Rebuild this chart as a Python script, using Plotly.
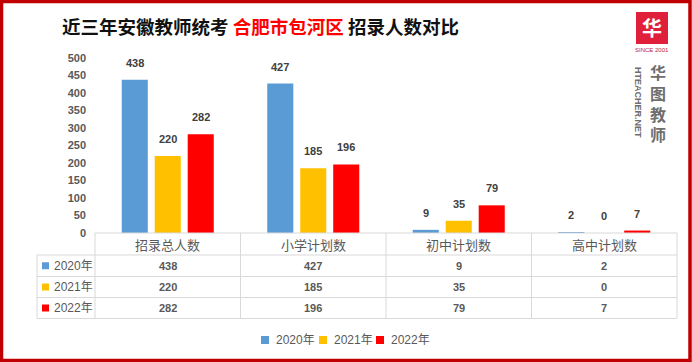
import plotly.graph_objects as go

categories = ["招录总人数", "小学计划数", "初中计划数", "高中计划数"]
years = ["2020年", "2021年", "2022年"]
values_2020 = [438, 427, 9, 2]
values_2021 = [220, 185, 35, 0]
values_2022 = [282, 196, 79, 7]
series = [values_2020, values_2021, values_2022]
colors = ["#5B9BD5", "#FFC000", "#FF0000"]
y_ticks = [0, 50, 100, 150, 200, 250, 300, 350, 400, 450, 500]

W, H = 692, 362
L, R, T, B = 95, 677, 58, 233
BARGAP = 0.32
FONT = "Liberation Sans, Noto Sans CJK SC, sans-serif"
CJK = "Noto Sans CJK SC, sans-serif"
GRAY = "#595959"
GRID = "#D9D9D9"


def px(x):
    return (x - L) / (R - L)


def py(y):
    return (B - y) / (B - T)


fig = go.Figure()
for name, vals, col in zip(years, series, colors):
    fig.add_trace(go.Bar(x=list(range(len(categories))), y=vals, name=name,
                         marker=dict(color=col, line=dict(width=0)),
                         showlegend=False, hoverinfo="skip"))

annotations = []
shapes = []

# data labels above bars
slot = (1 - BARGAP) / len(series)
for k, vals in enumerate(series):
    for i, v in enumerate(vals):
        annotations.append(dict(x=i + (k - 1) * slot, y=v, xref="x", yref="y",
                                text=f"<b>{v}</b>", showarrow=False,
                                xanchor="center", yanchor="middle", yshift=17,
                                font=dict(family=FONT, size=11, color="#404040")))

# table grid
row_edges = [233, 255, 276.5, 297.5, 318.5]
col_w = (R - L) / len(categories)
col_edges = [L + i * col_w for i in range(len(categories) + 1)]
line = dict(color=GRID, width=1)
shapes.append(dict(type="line", xref="paper", yref="paper", x0=px(L), x1=px(R),
                   y0=py(233), y1=py(233), line=line))
for ry in row_edges[1:]:
    shapes.append(dict(type="line", xref="paper", yref="paper", x0=px(37), x1=px(R),
                       y0=py(ry), y1=py(ry), line=line))
for cx in col_edges:
    shapes.append(dict(type="line", xref="paper", yref="paper", x0=px(cx), x1=px(cx),
                       y0=py(233), y1=py(318.5), line=line))
shapes.append(dict(type="line", xref="paper", yref="paper", x0=px(37), x1=px(37),
                   y0=py(255), y1=py(318.5), line=line))

# header cells
for i, c in enumerate(categories):
    annotations.append(dict(x=i, y=py(244), xref="x", yref="paper", text=c,
                            showarrow=False, xanchor="center", yanchor="middle",
                            font=dict(family=CJK, size=13, color=GRAY)))
# rows
for k, (name, vals, col) in enumerate(zip(years, series, colors)):
    rc = (row_edges[k + 1] + row_edges[k + 2]) / 2
    shapes.append(dict(type="rect", xref="paper", yref="paper", x0=px(42), x1=px(49),
                       y0=py(rc + 3.5), y1=py(rc - 3.5), fillcolor=col,
                       line=dict(width=0)))
    annotations.append(dict(x=px(52), y=py(rc), xref="paper", yref="paper",
                            text=name, showarrow=False, xanchor="left", yanchor="middle",
                            font=dict(family=FONT, size=12, color=GRAY)))
    for i, v in enumerate(vals):
        annotations.append(dict(x=i, y=py(rc), xref="x", yref="paper", text=f"<b>{v}</b>",
                                showarrow=False, xanchor="center", yanchor="middle",
                                font=dict(family=FONT, size=11, color=GRAY)))

# bottom legend
leg_x = [261, 319, 376]
for name, col, lx in zip(years, colors, leg_x):
    shapes.append(dict(type="rect", xref="paper", yref="paper", x0=px(lx), x1=px(lx + 8),
                       y0=py(344), y1=py(336), fillcolor=col, line=dict(width=0)))
    annotations.append(dict(x=px(lx + 13), y=py(340), xref="paper", yref="paper",
                            text=name, showarrow=False, xanchor="left", yanchor="middle",
                            font=dict(family=FONT, size=12, color=GRAY)))

# title
annotations.append(dict(x=px(260), y=py(26), xref="paper", yref="paper",
                        text="<b>近三年安徽教师统考 <span style='color:#FF0000'>合肥市包河区</span> 招录人数对比</b>",
                        showarrow=False, xanchor="center", yanchor="middle",
                        font=dict(family=CJK, size=18.5, color="#111111")))

# logo
shapes.append(dict(type="rect", xref="paper", yref="paper", x0=px(636), x1=px(668),
                   y0=py(44), y1=py(12), fillcolor="#E0203A", line=dict(width=0)))
annotations.append(dict(x=px(652), y=py(28), xref="paper", yref="paper", text="<b>华</b>",
                        showarrow=False, xanchor="center", yanchor="middle",
                        font=dict(family=CJK, size=20, color="white")))
annotations.append(dict(x=px(652), y=py(50), xref="paper", yref="paper", text="SINCE 2001",
                        showarrow=False, xanchor="center", yanchor="middle",
                        font=dict(family=FONT, size=6, color="#C0203A")))
annotations.append(dict(x=px(658), y=py(102.5), xref="paper", yref="paper",
                        text="<b>华<br>图<br>教<br>师</b>", showarrow=False,
                        xanchor="center", yanchor="middle",
                        font=dict(family=CJK, size=16, color="#6E6E6E")))
annotations.append(dict(x=px(638), y=py(102), xref="paper", yref="paper",
                        text="<b>HTEACHER.NET</b>", showarrow=False, textangle=90,
                        xanchor="center", yanchor="middle",
                        font=dict(family=FONT, size=9, color="#6E6E6E")))

# red border
shapes.append(dict(type="rect", xref="paper", yref="paper", x0=px(1.5), x1=px(690),
                   y0=py(360.5), y1=py(1.5), line=dict(color="#C00000", width=3.5),
                   fillcolor="rgba(0,0,0,0)", layer="above"))

fig.update_layout(
    width=W, height=H,
    margin=dict(l=L, r=W - R, t=T, b=H - B),
    paper_bgcolor="white", plot_bgcolor="white",
    barmode="group", bargap=BARGAP, bargroupgap=0.21,
    showlegend=False,
    xaxis=dict(range=[-0.5, 3.5], showticklabels=False, showgrid=False,
               zeroline=False, showline=False, ticks=""),
    yaxis=dict(range=[0, 500], tickvals=y_ticks, showgrid=False, zeroline=False,
               showline=False, ticks="", ticklabelstandoff=8,
               tickfont=dict(family=FONT, size=11, color=GRAY, weight="bold")),
    annotations=annotations, shapes=shapes,
)

fig.write_html("out.html", config={"displayModeBar": False},
               post_script="document.body.style.margin='0';document.documentElement.style.overflow='hidden';")
